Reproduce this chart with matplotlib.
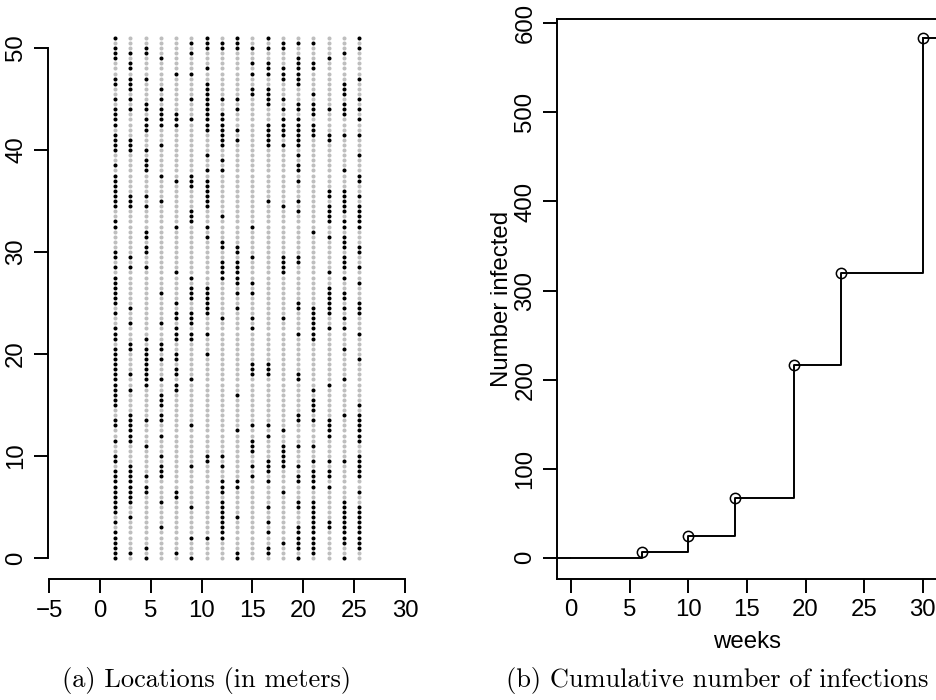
import numpy as np
import matplotlib
matplotlib.use("Agg")
import matplotlib.pyplot as plt

# ---------------- data: left panel (field map) ----------------
# 17 planting rows (x, metres) and plants every 0.5 m along each row (y, metres)
row_x = [1.5, 3.0, 4.5, 6.0, 7.5, 9.0, 10.5, 12.0, 13.5, 15.0, 16.5, 18.0,
         19.5, 21.0, 22.5, 24.0, 25.5]
plant_spacing = 0.5
n_plants = 103          # per row, from y = 51 (top) down to y = 0

# infected plants: for each position along the rows (top to bottom),
# the 1-based indices of the planting rows whose plant is infected
infected_top = [
    "1 7 9 11 17", "6 7 8 9 12 13 14", "1 3 7 8 9 10 11 12 17", "1 2 3 6 16",
    "1 4 13 15", "2 10 11 13 14", "2 7 11 12 13 14", "5 6 10 11 12 13",
    "1 2 3 12 13 17", "1 2 7 13 16", "2 4 7 10 11 16", "7 10 11 14 16",
    "1 2 4 6 7 8 9 11 12 17", "3 7 11 13 14 16", "1 2 3 4 7 9 12 13 14 15 16 17",
    "1 4 5 7 8 14 16", "1 3 4 5 6 7 8 12 13 17", "1 3 4 5 7 8 11 12 13 14",
    "3 7 8 9 11 12 13 14", "1 8 11 12 13 14 15 16 17", "1 2 8 9 11 13 15",
    "1 2 4 8 11 12 13", "1 2 3", "7 13 17", "3 8", "1 3 13", "3 7 8 13 16",
    "1 4 6 17", "1 5 6 7 13 17", "1 6 7", "1 7 15 16", "1 2 3 7 15 16 17",
]
infected_mid = [
    "1 2 4 7 11 13 16", "1 2 3 7 12 15 16 17", "6 13 15 16 17", "6 8 15 17",
    "1 6 15 16 17", "1 5 7 10 16 17", "3 14", "3 7 15 16", "8 16", "3 8 9 16 17",
    "1 3 9 17", "1 2 10 12 13 16", "8 9 12 13 16", "1 2 3 8 9 12 16 17",
    "5 8 9 12 15", "1 6 8 9 16", "1 9 10 17", "1 6 7 15", "1 4 6 7 9 10 15 16",
    "1 6 7 15 16", "1 5 7 13 15 17", "2 7 9 13 14 15 16 17", "1 5 6 7 14 15 17",
    "5 6 8 10 12 14 16", "2 4 6 14", "1 5 10 14 15 16", "1 5 6 7 13 14 17",
    "1 3 5 6 14", "2 4", "1 2 3 4 16", "1 3 5 7", "1 3 4 5 17", "1 3 10 11",
    "1 3 5 10 11", "1 2 3 5 10 11 13", "1 3 4 6 13 16", "1 3 5 15", "1 2 5 14",
    "1 4 9", "1 4 14",
]
infected_bot = [
    "1 4 14 17", "14", "2 4 13 16 17", "1 2 3 4 13 14 15 17", "1 2 6 10 11 15 17",
    "2 9 12 15 17", "2 4 11 15 17", "1 2 10 17", "3 10 12 13 14", "10 12",
    "1 4 7 8 12 17", "1 7 11 12 14 15 16 17", "2 4 6 8 10 11 12 13 17",
    "1 2 4 11 14 15 17", "1 2 3 4 10 13 14 15 17", "1 2 8 9 11 13 14",
    "1 2 3 8 9 14 15", "1 2 3 5 8 12 17", "1 2 5", "1 2 4 8 13 14 16",
    "1 6 8 11 13 14 16 17", "1 8 14 16 17", "2 8 9 14 16 17",
    "1 8 11 14 15 16 17", "4 8 13 14 15 16 17", "1 8 11 13 14 16 17",
    "1 6 7 8 13 14 16 17", "1 12 13 14 16 17", "1 3 11 13 14 17", "1 2 5 9 11 14",
    "1 3 6 9 13 16",
]

# ---------------- data: right panel (epidemic curve) ----------------
weeks = [0, 6, 10, 14, 19, 23, 30]
n_infected = [0, 6, 24, 67, 216, 320, 583]

# ---------------- build point table ----------------
rows = infected_top + infected_mid + infected_bot
px, py, pinf = [], [], []
for k, s in enumerate(rows[:n_plants]):
    inf = set(int(t) for t in s.split())
    y = (n_plants - 1 - k) * plant_spacing
    for j, x in enumerate(row_x, start=1):
        px.append(x)
        py.append(y)
        pinf.append(j in inf)
px = np.array(px); py = np.array(py); pinf = np.array(pinf)

# ---------------- figure ----------------
W, H = 936, 700
fig = plt.figure(figsize=(W / 100, H / 100), dpi=100)
sans = ["Liberation Sans", "DejaVu Sans"]
fs = 17.3
lw = 1.4

def fig_rect(x0, x1, ytop, ybot):
    return [x0 / W, 1 - ybot / H, (x1 - x0) / W, (ybot - ytop) / H]

# ----- left panel -----
ax1 = fig.add_axes(fig_rect(48.0, 425.3, 17.0, 578.8))
ax1.scatter(px[~pinf], py[~pinf], s=8.5, c="#BEBEBE", linewidths=0, zorder=2)
ax1.scatter(px[pinf], py[pinf], s=8.5, c="black", linewidths=0, zorder=3)
ax1.set_xlim(-5.1, 32.0)
ax1.set_ylim(-2.04, 53.04)
for sp in ("top", "right"):
    ax1.spines[sp].set_visible(False)
ax1.spines["left"].set_bounds(0, 50)
ax1.spines["bottom"].set_bounds(-5, 30)
ax1.set_xticks(np.arange(-5, 31, 5))
ax1.set_yticks(np.arange(0, 51, 10))
ax1.set_xticklabels(["\u22125" if v < 0 else str(v) for v in range(-5, 31, 5)])

# ----- right panel -----
ax2 = fig.add_axes(fig_rect(557.2, 936.7, 18.6, 578.5))
ax2.set_xlim(-1.2, 31.2)
ax2.set_ylim(-23.3, 605.3)
x_lo, x_hi = ax2.get_xlim()
ax2.step(weeks, n_infected, where="post", color="black", lw=lw, zorder=2)
ax2.hlines(n_infected[0], x_lo, weeks[0], color="black", lw=lw)
ax2.hlines(n_infected[-1], weeks[-1], x_hi, color="black", lw=lw)
ax2.plot(weeks[1:], n_infected[1:], linestyle="none", marker="o", ms=7.4,
         mfc="none", mec="black", mew=1.1, zorder=3)
ax2.set_xticks(np.arange(0, 31, 5))
ax2.set_yticks(np.arange(0, 601, 100))
ax2.set_xlabel("weeks", fontsize=fs, family=sans, labelpad=7)
ax2.set_ylabel("Number infected", fontsize=fs, family=sans, labelpad=1)

for ax in (ax1, ax2):
    for sp in ax.spines.values():
        sp.set_linewidth(lw)
    ax.tick_params(axis="both", direction="out", length=10, width=lw,
                   labelsize=fs, pad=5)
    ax.tick_params(axis="y", labelrotation=90)
    for lab in ax.get_xticklabels() + ax.get_yticklabels():
        lab.set_family(sans)
    for lab in ax.get_yticklabels():
        lab.set_va("center")

# ----- captions -----
cap_font = dict(family="cmr10", fontsize=19, ha="center", va="baseline")
fig.text(207 / W, 1 - 687 / H, "(a) Locations (in meters)", **cap_font)
fig.text(717 / W, 1 - 687 / H, "(b) Cumulative number of infections", **cap_font)

fig.savefig("out.png", dpi=100)
